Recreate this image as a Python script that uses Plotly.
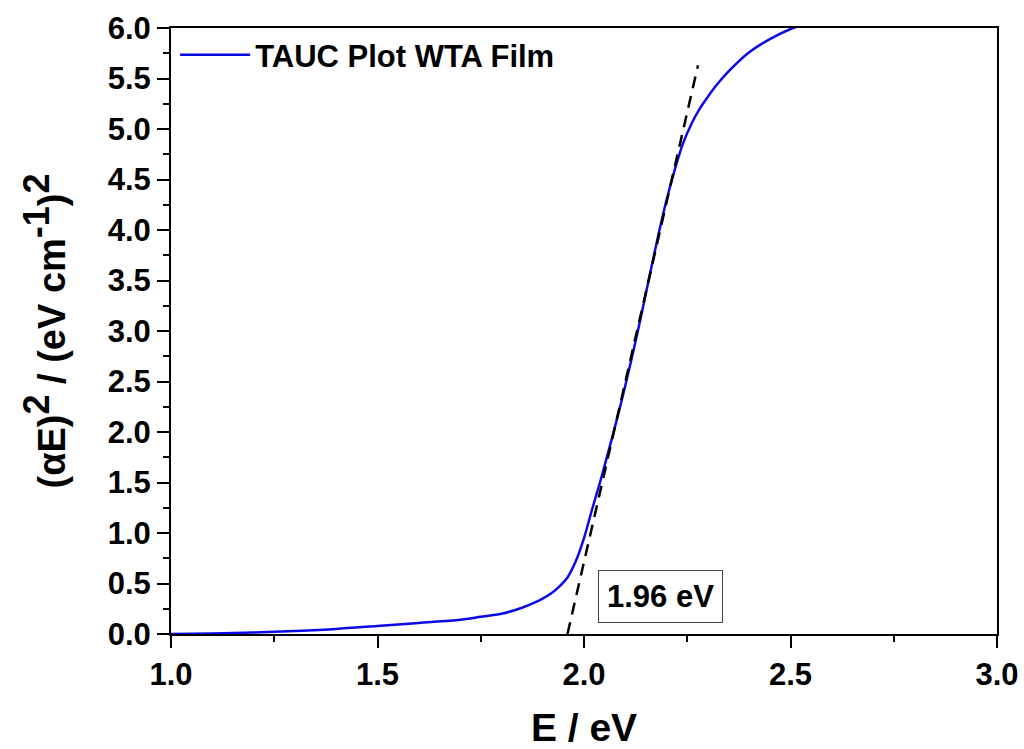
import plotly.graph_objects as go

# Tauc curve data
energy_ev = [1.00, 1.10, 1.20, 1.30, 1.40, 1.50, 1.60, 1.70, 1.75, 1.80, 1.85, 1.88,
             1.90, 1.92, 1.94, 1.96, 1.98, 2.00, 2.02, 2.04, 2.06, 2.08, 2.10, 2.12,
             2.14, 2.16, 2.18, 2.20, 2.22, 2.24, 2.26, 2.28, 2.30, 2.32, 2.35, 2.40,
             2.45, 2.50, 2.55]
tauc_values = [0.00, 0.005, 0.015, 0.03, 0.05, 0.08, 0.11, 0.14, 0.17, 0.20, 0.26, 0.31,
               0.35, 0.40, 0.47, 0.56, 0.72, 0.95, 1.24, 1.52, 1.82, 2.13, 2.46, 2.81,
               3.18, 3.57, 3.95, 4.30, 4.60, 4.86, 5.05, 5.20, 5.32, 5.43, 5.57, 5.76,
               5.89, 5.99, 6.06]

# Linear extrapolation (tangent) line
tangent_x = [1.96, 2.276]
tangent_y = [0.0, 5.63]

series_name = "TAUC Plot WTA Film"
band_gap_label = "1.96 eV"
x_ticks = [1.0, 1.5, 2.0, 2.5, 3.0]
y_ticks = [0.0, 0.5, 1.0, 1.5, 2.0, 2.5, 3.0, 3.5, 4.0, 4.5, 5.0, 5.5, 6.0]

FONT = "Arial, Liberation Sans, sans-serif"

fig = go.Figure()
fig.add_trace(go.Scatter(
    x=energy_ev, y=tauc_values, mode="lines", name=series_name,
    line=dict(color="rgb(10,10,230)", width=2.5, shape="spline", smoothing=0.8),
))
fig.add_trace(go.Scatter(
    x=tangent_x, y=tangent_y, mode="lines", showlegend=False,
    line=dict(color="black", width=2.5, dash="12px,8px"),
))

fig.add_annotation(
    x=2.185, y=0.37, xref="x", yref="y", text=band_gap_label, showarrow=False,
    font=dict(family=FONT, size=31, color="black", weight="bold"),
    bordercolor="#444", borderwidth=1, borderpad=8, bgcolor="white",
)

axis_common = dict(
    showline=True, linecolor="black", linewidth=2, mirror=True,
    ticks="outside", ticklen=12, tickwidth=2, tickcolor="black",
    showgrid=False, zeroline=False, automargin=False,
    tickfont=dict(family=FONT, size=31, color="black", weight="bold"),
)

fig.update_xaxes(
    range=[1.0, 3.0], tickvals=x_ticks, ticktext=[f"{v:.1f}" for v in x_ticks],
    minor=dict(dtick=0.25, tick0=1.0, ticks="outside", ticklen=6, tickwidth=2, tickcolor="black"),
    title=dict(text="E / eV", font=dict(family=FONT, size=39, color="black", weight="bold"), standoff=28),
    **axis_common,
)
y_title = ('(αE)<sup><span style="font-size:36px">2</span></sup> / '
           '(eV cm<sup><span style="font-size:36px">-1</span></sup>)'
           '<sup><span style="font-size:36px">2</span></sup>')
fig.update_yaxes(
    range=[0.0, 6.0], tickvals=y_ticks, ticktext=[f"{v:.1f}" for v in y_ticks],
    minor=dict(dtick=0.25, tick0=0.0, ticks="outside", ticklen=6, tickwidth=2, tickcolor="black"),
    title=dict(text=y_title,
               font=dict(family=FONT, size=38, color="black", weight="bold"), standoff=30),
    **axis_common,
)

fig.update_layout(
    width=1024, height=749,
    margin=dict(l=171, r=27, t=28, b=115),
    plot_bgcolor="white", paper_bgcolor="white",
    showlegend=True,
    legend=dict(x=0.005, y=1.0, xanchor="left", yanchor="top", bgcolor="rgba(0,0,0,0)",
                font=dict(family=FONT, size=31, color="black", weight="bold"),
                itemwidth=70, borderwidth=0, tracegroupgap=0),
)

fig.write_html("out.html")
